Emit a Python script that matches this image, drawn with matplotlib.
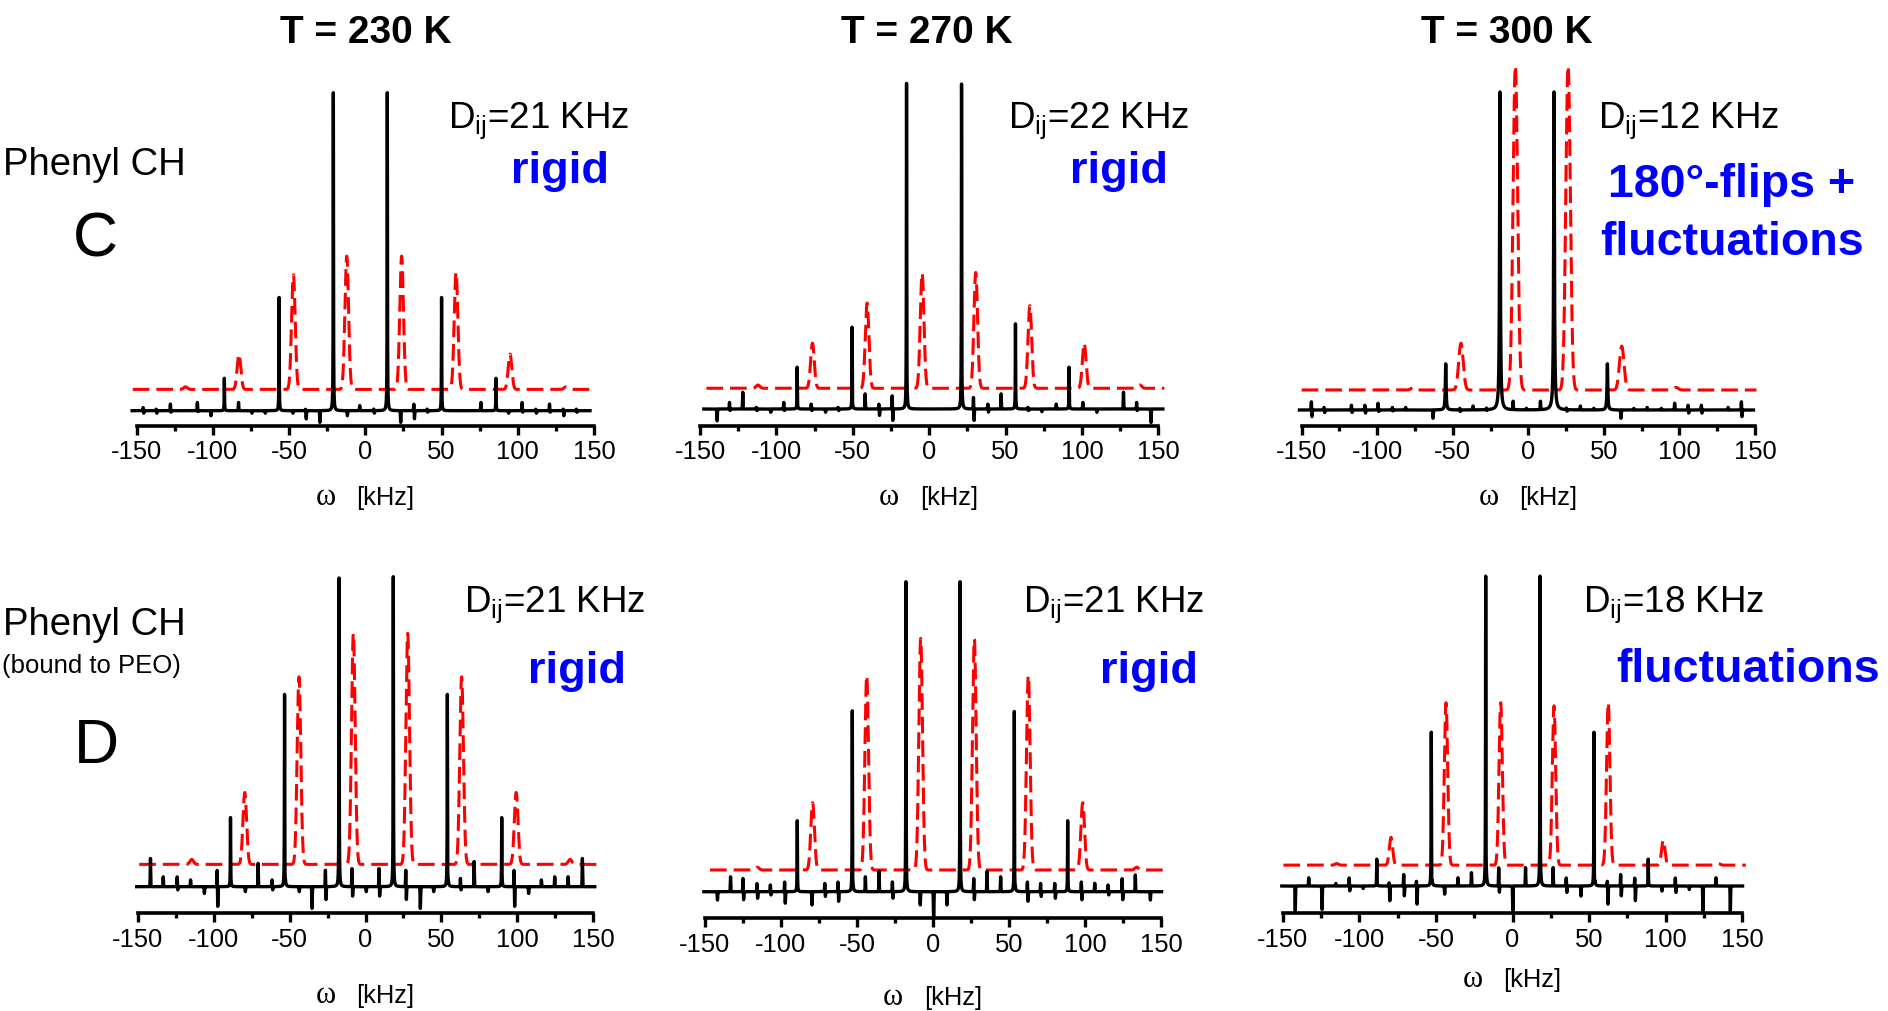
import numpy as np
import matplotlib
matplotlib.use("Agg")
import matplotlib.pyplot as plt

plt.rcParams['font.family'] = 'Liberation Sans'
plt.rcParams['axes.unicode_minus'] = False
plt.rcParams['mathtext.default'] = 'regular'
plt.rcParams['lines.scale_dashes'] = False

# ---- data (kHz, intensity with tallest black peak = 100) ----
temps = ["T = 230 K", "T = 270 K", "T = 300 K"]
dij = ["21", "22", "12", "21", "21", "18"]
motion = ["rigid", "rigid", "180°-flips +\nfluctuations", "rigid", "rigid", "fluctuations"]

black_pos = [
    [-92.5, -56.6, -21.0, 14.4, 50.0, 85.7],
    [-86.4, -50.4, -14.8, 21.2, 56.5, 91.6],
    [-54.7, -18.8, 17.0, 52.3],
    [-88.9, -53.3, -17.4, 18.3, 53.9, 89.7],
    [-89.3, -53.1, -17.8, 17.8, 53.5, 88.6],
    [-88.6, -53.0, -17.5, 18.0, 53.2, 88.6],
]
black_h = [
    [10.2, 35.6, 100, 100, 35.6, 10.2],
    [12.7, 25.9, 100, 100, 25.9, 12.7],
    [14.3, 100, 100, 14.3],
    [22.3, 64.0, 100, 100, 64.0, 22.3],
    [22.9, 59.9, 100, 100, 59.9, 22.9],
    [8.5, 51.5, 100, 100, 51.5, 8.5],
]
red_pos = [
    [-118, -82.9, -47.2, -12.2, 23.8, 59.5, 94.9, 131.6],
    [-112, -76.4, -40.6, -4.6, 30.5, 65.9, 101.5, 138],
    [-76, -44.6, -8.6, 26.3, 61.8, 97.7],
    [-114.4, -79.5, -43.8, -8.0, 27.8, 63.3, 99.2, 134.7],
    [-115.6, -79.2, -43.6, -8.1, 27.2, 62.7, 98.5, 134.0],
    [-114.8, -79.3, -43.4, -7.7, 27.1, 62.5, 98.4, 134.5],
]
red_h = [
    [0.8, 11.1, 36.0, 41.9, 41.9, 36.8, 11.1, 0.8],
    [1.0, 13.7, 25.9, 35.0, 35.2, 25.1, 13.7, 1.0],
    [0.8, 14.5, 100.4, 100.4, 13.6, 0.8],
    [1.6, 23.2, 60.5, 74.5, 74.5, 60.5, 23.2, 1.6],
    [0.9, 21.7, 62.7, 74.7, 74.5, 62.7, 21.7, 0.9],
    [0.5, 8.8, 51.4, 51.4, 50.4, 51.4, 7.9, 0.5],
]
red_offset = [6.7, 6.3, 6.2, 7.2, 7.0, 6.6]
black_span = [(-153, 147.4), (-147.5, 153), (-151.5, 149), (-150.7, 151), (-150.7, 150.4), (-150.6, 150.2)]
red_span = [(-152.6, 149), (-145.8, 154), (-150, 151), (-149, 152.8), (-146.7, 152.6), (-149.5, 152.3)]
black_w = [0.12, 0.12, 0.3, 0.12, 0.12, 0.12]
red_w = [1.2, 1.2, 1.5, 1.2, 1.2, 1.1]

# small spinning-sideband spikes: position, upward and downward excursion
spike_pos = [
    [-145.6, -137, -127.7, -110, -101.5, -83, -74.6, -65.8, -47.7, -39, -30, -12, -3.5, 5.7,
     23, 32, 40.7, 76, 93.8, 103, 112, 121, 130, 138.6],
    [-139, -130.5, -121.8, -112.9, -103.9, -95, -77, -68, -59.4, -50.4, -41.7, -32.7, -24,
     -14.8, 21.2, 29.2, 38.6, 47.3, 64.8, 73.6, 83.4, 100.8, 109.6, 127.4, 136, 145],
    [-143.4, -135, -116.9, -108, -99.3, -89.8, -81, -63.3, -45.2, -36.4, -27.6, -18.8, -9.9,
     -1.1, 8.2, 17.0, 25.4, 34.6, 43.5, 61.1, 70, 78.8, 88.2, 97, 105.9, 114.7, 132.4, 141.2],
    [-141.4, -133, -123.8, -115, -106.3, -97.5, -79.3, -70.5, -61.3, -53.3, -43.8, -35.4,
     -26.2, -17.4, -8.7, 0.3, 9.1, 26.7, 35.9, 44.7, 53.9, 62.7, 71.7, 80.5, 98, 107.2, 116,
     124.8, 133.6, 143],
    [-142, -133, -124.8, -115.6, -106.8, -97.4, -79.8, -71, -62.3, -53.1, -44.3, -35.3, -26.5,
     -8.6, 0.2, 9, 27, 35.7, 44.7, 53.5, 62.3, 71, 80.3, 97.8, 106.6, 115.4, 124.6, 133.3, 142.8],
    [-142, -132.8, -124.5, -115.1, -106.4, -97.7, -80.3, -70.8, -62.5, -53, -44.5, -35.4,
     -26.6, -17.5, -8.8, 0, 8.7, 18, 26.7, 35.3, 44.5, 53.2, 62.1, 70.8, 80, 97.4, 106.5,
     115.2, 124.1, 133, 142],
]
spike_up = [
    [1.0, 0.5, 2.1, 2.6, 0, 2.6, 0, 0, 0, 0.5, 0, 0, 1.6, 0.5, 0, 2.1, 0.5, 2.6, 0, 2.6, 0.5, 2.1, 0.5, 0.5],
    [0, 2.0, 5.1, 0.5, 0, 2.0, 1.5, 0, 0.5, 0, 4.6, 1.5, 4.1, 0, 0, 3.6, 1.5, 4.6, 0.5, 0, 1.5, 2.0, 0, 5.1, 2.0, 0],
    [2.6, 0.8, 1.5, 1.5, 2.1, 0.8, 0.8, 0, 0.5, 1.2, 0.5, 0, 2.6, 0.5, 2.6, 0, 0.5, 1.2, 0.5, 0, 0.5, 0.8, 0.5,
     2.1, 1.5, 1.5, 0.8, 2.6],
    [9.1, 3.2, 3.2, 2.2, 0, 5.4, 0, 7.5, 2.2, 0, 0, 0, 5.4, 0, 5.9, 0, 5.9, 5.4, 0, 0, 0, 2.7, 8.1, 0, 5.4, 0,
     2.2, 3.2, 3.2, 9.1],
    [0, 4.8, 4.3, 2.7, 2.2, 3.2, 0, 2.7, 3.2, 0, 4.8, 6.5, 3.2, 0, 0, 0, 4.3, 6.5, 4.8, 0, 3.2, 2.7, 2.7, 3.2,
     2.7, 2.2, 4.3, 5.4, 0],
    [0, 2.6, 0, 0.8, 2.6, 0, 1.1, 3.7, 1.6, 0, 0, 2.6, 4.2, 0, 5.8, 0, 5.8, 0, 5.8, 2.6, 0, 0, 1.6, 3.7, 2.6,
     0, 2.6, 0, 0, 2.6, 0],
]
spike_dn = [
    [0.8, 0.8, 0.5, 0.3, 1.6, 0, 0.8, 0.8, 0.8, 2.6, 3.7, 1.6, 0, 0.8, 3.7, 2.6, 0.5, 0, 0.8, 0.5, 0.8, 0.5, 1.6, 0.5],
    [3.6, 0.5, 0, 0.5, 1.0, 0.5, 0.5, 1.0, 0.5, 2.5, 0, 2.0, 3.6, 2.5, 3.0, 3.6, 1.0, 0, 0.5, 0.8, 0, 0, 1.0, 0, 0.5, 4.1],
    [2.1, 0.8, 0.8, 1.0, 0.5, 0.3, 0, 2.6, 0.5, 0, 0.3, 3.5, 0, 0, 0, 3.5, 0.5, 0, 0, 2.6, 0, 0, 0, 0, 1.0, 1.0,
     0, 2.1],
    [0, 0, 1.1, 0, 2.2, 6.5, 1.6, 0, 1.1, 4.8, 1.6, 7.0, 4.3, 1.0, 3.2, 1.6, 3.2, 4.3, 7.0, 1.6, 4.8, 1.1, 0, 1.6,
     6.5, 2.2, 0, 0, 0, 0],
    [2.7, 0, 2.7, 2.2, 1.1, 3.8, 4.3, 1.6, 3.2, 3.8, 0, 0, 2.2, 4.3, 8.6, 4.3, 2.7, 0, 0, 4.3, 3.2, 1.6, 2.2, 2.7,
     0, 1.1, 2.7, 0, 2.7],
    [7.9, 0, 7.4, 0, 1.6, 0.8, 4.7, 3.2, 5.8, 6.9, 2.6, 0, 0, 4.7, 2.1, 7.9, 0, 4.7, 0, 2.1, 3.2, 6.9, 5.8, 3.2,
     4.7, 1.6, 2.1, 1.1, 7.9, 0, 7.9],
]

# ---- layout (pixels of the 1888x1011 canvas) ----
W, H = 1888, 1011
ax_x0 = [136.7, 700.0, 1301.7, 137.7, 705.0, 1282.7]
ax_x1 = [594.0, 1158.3, 1755.0, 593.3, 1161.0, 1742.3]
ax_y = [425.7, 425.7, 425.7, 913.3, 918.3, 913.3]
base_y = [410.7, 409.0, 410.0, 886.7, 891.7, 886.0]
ppu = [3.18, 3.29, 3.227, 3.1, 3.1, 3.16]
top_y = [50, 50, 50, 560, 560, 560]
lab_dy = [79, 79, 79, 90, 87, 74]
title_x = [366, 927, 1507]
dij_xy = [(448, 128.3), (1008, 128.3), (1598, 128.3), (464, 612), (1023, 612), (1583, 612)]
mot_xy = [(560, 183), (1119, 183), (1732, 197), (577, 683), (1149, 683), (1748, 682)]
mot_size = [32.5, 32.5, 33.5, 32.5, 32.5, 33.5]


def fx(x):
    return x / W


def fy(y):
    return 1 - y / H


def gauss(x, p, s):
    return np.exp(-0.5 * ((x - p) / s) ** 2)


def lorentz(x, p, g):
    return g ** 2 / ((x - p) ** 2 + g ** 2)


fig = plt.figure(figsize=(W / 100, H / 100), dpi=100)

for i in range(6):
    ylo = -(ax_y[i] - base_y[i]) / ppu[i]
    yhi = (base_y[i] - top_y[i]) / ppu[i]
    ax = fig.add_axes([fx(ax_x0[i]), fy(ax_y[i]), (ax_x1[i] - ax_x0[i]) / W, (ax_y[i] - top_y[i]) / H])
    ax.set_xlim(-150, 150)
    ax.set_ylim(ylo, yhi)
    ax.patch.set_alpha(0)
    for s in ['top', 'left', 'right']:
        ax.spines[s].set_visible(False)
    ax.spines['bottom'].set_linewidth(2.6)
    ax.set_yticks([])
    ax.set_xticks(np.arange(-150, 151, 50))
    ax.set_xticks(np.arange(-125, 150, 50), minor=True)
    ax.tick_params(axis='x', which='major', direction='out', length=6.5, width=2.4, pad=4, labelsize=18.4)
    ax.tick_params(axis='x', which='minor', direction='out', length=3.6, width=2.4)

    # red dashed spectrum
    xr = np.arange(red_span[i][0], red_span[i][1], 0.02)
    yr = np.full_like(xr, red_offset[i])
    for p, h in zip(red_pos[i], red_h[i]):
        yr += h * gauss(xr, p, red_w[i])
    ax.plot(xr, yr, color='#ff0000', lw=2.2, dashes=(12, 5), clip_on=False)

    # black spectrum
    xb = np.arange(black_span[i][0], black_span[i][1], 0.02)
    yb = np.zeros_like(xb)
    for p, h in zip(black_pos[i], black_h[i]):
        yb += h * lorentz(xb, p, black_w[i])
    for p, u, d in zip(spike_pos[i], spike_up[i], spike_dn[i]):
        yb += u * gauss(xb, p - 0.2, 0.15) - d * gauss(xb, p + 0.2, 0.15)
    ax.plot(xb, yb, color='black', lw=2.4, clip_on=False)

    # axis label: omega + [kHz]
    cx = (ax_x0[i] + ax_x1[i]) / 2
    ly = ax_y[i] + lab_dy[i]
    fig.text(fx(cx - 40), fy(ly), 'ω', family='Liberation Serif', fontsize=22, ha='center', va='baseline')
    fig.text(fx(cx - 9), fy(ly), '[kHz]', fontsize=18.4, ha='left', va='baseline')

    # coupling constant and motion labels
    fig.text(fx(dij_xy[i][0]), fy(dij_xy[i][1]), 'D$_{ij}$=' + dij[i] + ' KHz',
             fontsize=26.5, ha='left', va='baseline')
    for k, line in enumerate(motion[i].split('\n')):
        fig.text(fx(mot_xy[i][0]), fy(mot_xy[i][1] + 58 * k), line, fontsize=mot_size[i],
                 weight='bold', color='#0000ff', ha='center', va='baseline')

for t, x in zip(temps, title_x):
    fig.text(fx(x), fy(43.3), t, fontsize=28, weight='bold', ha='center', va='baseline')

fig.text(fx(3), fy(175), 'Phenyl CH', fontsize=27.5, ha='left', va='baseline')
fig.text(fx(95), fy(257), 'C', fontsize=45, ha='center', va='baseline')
fig.text(fx(3), fy(635), 'Phenyl CH', fontsize=27.5, ha='left', va='baseline')
fig.text(fx(2), fy(673), '(bound to PEO)', fontsize=18.5, ha='left', va='baseline')
fig.text(fx(96), fy(763), 'D', fontsize=45, ha='center', va='baseline')

fig.savefig('out.png', dpi=100)
